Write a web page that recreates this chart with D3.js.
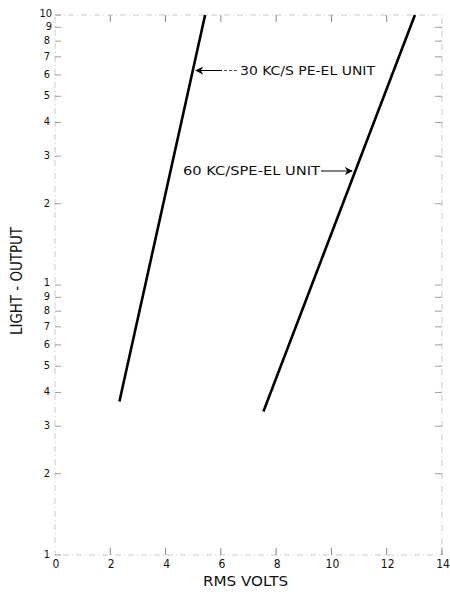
<!DOCTYPE html>
<html>
<head>
<meta charset="utf-8">
<script src="https://cdn.jsdelivr.net/npm/d3@7"></script>
<style>
  html, body { margin: 0; padding: 0; background: #fff; }
  svg { display: block; }
  text { font-family: "Liberation Sans Narrow", "DejaVu Sans Condensed", "Liberation Sans", sans-serif; fill: #111; }
</style>
</head>
<body>
<svg id="chart" width="450" height="602"></svg>
<script>
// ---- data ----
const yTickValues = [0.1, 0.2, 0.3, 0.4, 0.5, 0.6, 0.7, 0.8, 0.9, 1, 2, 3, 4, 5, 6, 7, 8, 9, 10];
const yTickLabels = ["1", "2", "3", "4", "5", "6", "7", "8", "9", "1", "2", "3", "4", "5", "6", "7", "8", "9", "10"];
const xTickValues = [0, 2, 4, 6, 8, 10, 12, 14];
const xTickLabels = ["0", "2", "4", "6", "8", "10", "12", "14"];
const series30Volts = [2.33, 5.43];
const series30Light = [0.37, 10];
const series60Volts = [7.54, 13.02];
const series60Light = [0.34, 10];
const seriesNames = ["30 KC/S PE-EL  UNIT", "60 KC/SPE-EL UNIT"];

// ---- layout ----
const svg = d3.select("#chart");
const pL = 55, pR = 442, pT = 15, pB = 555;
const x = d3.scaleLinear().domain([0, 14]).range([pL, pR]);
const y = d3.scaleLog().domain([0.1, 10]).range([pB, pT]);

const frameColor = "#bbb";
svg.append("rect")
  .attr("x", pL).attr("y", pT)
  .attr("width", pR - pL).attr("height", pB - pT)
  .attr("fill", "none").attr("stroke", frameColor)
  .attr("stroke-width", 0.8).attr("stroke-dasharray", "6,3,1,3");

// y ticks left and right
const yTicks = yTickValues.map((v, i) => ({ v, label: yTickLabels[i] }));
svg.append("g").selectAll("line").data(yTicks).join("line")
  .attr("x1", pL).attr("x2", pL + 6)
  .attr("y1", d => y(d.v)).attr("y2", d => y(d.v))
  .attr("stroke", "#888").attr("stroke-width", 0.8);
svg.append("g").selectAll("line").data(yTicks.filter(d => d.v < 10 && d.v > 0.1)).join("line")
  .attr("x1", pR - 7).attr("x2", pR)
  .attr("y1", d => y(d.v)).attr("y2", d => y(d.v))
  .attr("stroke", "#888").attr("stroke-width", 0.8);

svg.append("g").selectAll("text").data(yTicks).join("text")
  .attr("x", d => d.v === 0.1 ? 50 : (d.v >= 9 ? 52 : 50))
  .attr("y", d => d.v === 10 ? y(d.v) - 1 : (d.v === 1 ? y(d.v) - 2 : y(d.v)))
  .attr("text-anchor", "end")
  .attr("dominant-baseline", "middle")
  .attr("font-size", 11)
  .text(d => d.label);

// x ticks top and bottom
const xTicks = xTickValues.map((v, i) => ({ v, label: xTickLabels[i] }));
svg.append("g").selectAll("line").data(xTicks.filter(d => d.v > 0 && d.v < 14)).join("line")
  .attr("x1", d => x(d.v)).attr("x2", d => x(d.v))
  .attr("y1", pT).attr("y2", pT + 7)
  .attr("stroke", "#777").attr("stroke-width", 0.9);
svg.append("g").selectAll("line").data(xTicks.filter(d => d.v > 0)).join("line")
  .attr("x1", d => x(d.v)).attr("x2", d => x(d.v))
  .attr("y1", pB - 7).attr("y2", pB)
  .attr("stroke", "#777").attr("stroke-width", 0.9);

svg.append("g").selectAll("text").data(xTicks).join("text")
  .attr("x", d => x(d.v) + 1)
  .attr("y", 564)
  .attr("text-anchor", "middle")
  .attr("dominant-baseline", "middle")
  .attr("font-size", 12)
  .text(d => d.label);

// axis titles
svg.append("text")
  .attr("x", 203).attr("y", 582)
  .attr("dominant-baseline", "middle")
  .attr("font-size", 14)
  .attr("textLength", 85).attr("lengthAdjust", "spacingAndGlyphs")
  .text("RMS  VOLTS");

svg.append("text")
  .attr("transform", "translate(17,281) rotate(-90)")
  .attr("text-anchor", "middle")
  .attr("dominant-baseline", "middle")
  .attr("font-size", 15)
  .attr("textLength", 108).attr("lengthAdjust", "spacingAndGlyphs")
  .text("LIGHT - OUTPUT");

// series lines
const line = d3.line().x(d => x(d[0])).y(d => y(d[1]));
const s30 = series30Volts.map((v, i) => [v, series30Light[i]]);
const s60 = series60Volts.map((v, i) => [v, series60Light[i]]);
svg.append("path").datum(s30).attr("d", line)
  .attr("fill", "none").attr("stroke", "#000").attr("stroke-width", 2.6);
svg.append("path").datum(s60).attr("d", line)
  .attr("fill", "none").attr("stroke", "#000").attr("stroke-width", 2.6);

// arrowhead marker
const defs = svg.append("defs");
defs.append("marker").attr("id", "arrow")
  .attr("viewBox", "0 0 10 10").attr("refX", 9).attr("refY", 5)
  .attr("markerWidth", 8).attr("markerHeight", 8)
  .attr("markerUnits", "userSpaceOnUse")
  .attr("orient", "auto")
  .append("path").attr("d", "M0,0 L10,5 L0,10 L3,5 Z").attr("fill", "#000");

// annotation 30
svg.append("line")
  .attr("x1", 222).attr("x2", 196).attr("y1", 70.5).attr("y2", 70.5)
  .attr("stroke", "#000").attr("stroke-width", 1)
  .attr("marker-end", "url(#arrow)");
svg.append("line")
  .attr("x1", 237).attr("x2", 222).attr("y1", 70.5).attr("y2", 70.5)
  .attr("stroke", "#555").attr("stroke-width", 1).attr("stroke-dasharray", "3,2");
svg.append("text")
  .attr("x", 240).attr("y", 71)
  .attr("dominant-baseline", "middle")
  .attr("font-size", 12)
  .attr("textLength", 135).attr("lengthAdjust", "spacingAndGlyphs")
  .text(seriesNames[0]);

// annotation 60
svg.append("text")
  .attr("x", 183).attr("y", 171)
  .attr("dominant-baseline", "middle")
  .attr("font-size", 12)
  .attr("textLength", 137).attr("lengthAdjust", "spacingAndGlyphs")
  .text(seriesNames[1]);
svg.append("line")
  .attr("x1", 321).attr("x2", 352).attr("y1", 171).attr("y2", 171)
  .attr("stroke", "#000").attr("stroke-width", 1)
  .attr("marker-end", "url(#arrow)");
</script>
</body>
</html>
